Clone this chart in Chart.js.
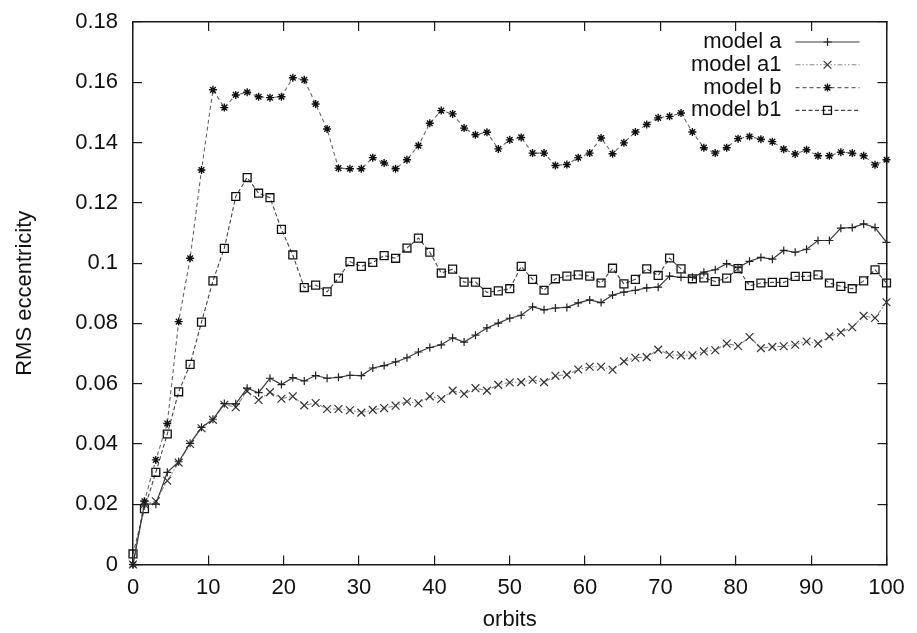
<!DOCTYPE html>
<html>
<head>
<meta charset="utf-8">
<title>RMS eccentricity vs orbits</title>
<script src="https://cdn.jsdelivr.net/npm/chart.js@4.4.1/dist/chart.umd.min.js"></script>
<style>
  html, body { margin: 0; padding: 0; background: #ffffff; }
  canvas { display: block; }
</style>
</head>
<body>
<canvas id="chart" width="917" height="633"></canvas>
<script>
// Sample times (orbits)
const orbits = [0, 1.52, 3.03, 4.55, 6.06, 7.58, 9.09, 10.61, 12.12, 13.64, 15.15, 16.67, 18.18, 19.70,
  21.21, 22.73, 24.24, 25.76, 27.27, 28.79, 30.30, 31.82, 33.33, 34.85, 36.36, 37.88, 39.39, 40.91,
  42.42, 43.94, 45.45, 46.97, 48.48, 50.00, 51.52, 53.03, 54.55, 56.06, 57.58, 59.09, 60.61, 62.12,
  63.64, 65.15, 66.67, 68.18, 69.70, 71.21, 72.73, 74.24, 75.76, 77.27, 78.79, 80.30, 81.82, 83.33,
  84.85, 86.36, 87.88, 89.39, 90.91, 92.42, 93.94, 95.45, 96.97, 98.48, 100];

// RMS eccentricity per model
const modelA = [0, 0.0200, 0.0200, 0.0306, 0.0341, 0.0402, 0.0455, 0.0482, 0.0534, 0.0533, 0.0585,
  0.0570, 0.0618, 0.0597, 0.0620, 0.0609, 0.0627, 0.0618, 0.0621, 0.0628, 0.0627, 0.0652, 0.0660,
  0.0672, 0.0686, 0.0705, 0.0720, 0.0729, 0.0752, 0.0738, 0.0761, 0.0785, 0.0801, 0.0817, 0.0827,
  0.0855, 0.0845, 0.0851, 0.0853, 0.0868, 0.0878, 0.0869, 0.0894, 0.0904, 0.0910, 0.0918, 0.0920,
  0.0957, 0.0953, 0.0953, 0.0970, 0.0978, 0.0998, 0.0985, 0.1006, 0.1019, 0.1013, 0.1042, 0.1036,
  0.1046, 0.1075, 0.1075, 0.1116, 0.1118, 0.1130, 0.1118, 0.1069];

const modelA1 = [0, 0.0200, 0.0210, 0.0278, 0.0338, 0.0400, 0.0452, 0.0480, 0.0530, 0.0522, 0.0575,
  0.0546, 0.0572, 0.0550, 0.0558, 0.0528, 0.0536, 0.0516, 0.0516, 0.0512, 0.0504, 0.0513, 0.0519,
  0.0527, 0.0541, 0.0535, 0.0558, 0.0549, 0.0577, 0.0566, 0.0585, 0.0577, 0.0596, 0.0604, 0.0605,
  0.0613, 0.0605, 0.0626, 0.0630, 0.0647, 0.0656, 0.0656, 0.0646, 0.0674, 0.0686, 0.0688, 0.0713,
  0.0696, 0.0694, 0.0694, 0.0707, 0.0711, 0.0733, 0.0725, 0.0755, 0.0718, 0.0722, 0.0724, 0.0729,
  0.0740, 0.0733, 0.0757, 0.0770, 0.0787, 0.0825, 0.0818, 0.0870];

const modelB = [0, 0.0210, 0.0347, 0.0468, 0.0806, 0.1016, 0.1309, 0.1575, 0.1516, 0.1558, 0.1567,
  0.1552, 0.1549, 0.1552, 0.1615, 0.1608, 0.1528, 0.1445, 0.1315, 0.1313, 0.1313, 0.1350, 0.1332,
  0.1313, 0.1343, 0.1390, 0.1464, 0.1506, 0.1495, 0.1448, 0.1426, 0.1434, 0.1379, 0.1409, 0.1417,
  0.1365, 0.1365, 0.1324, 0.1327, 0.1350, 0.1365, 0.1415, 0.1363, 0.1399, 0.1435, 0.1460, 0.1482,
  0.1487, 0.1498, 0.1435, 0.1383, 0.1365, 0.1383, 0.1413, 0.1420, 0.1411, 0.1403, 0.1378, 0.1362,
  0.1376, 0.1356, 0.1356, 0.1368, 0.1365, 0.1356, 0.1326, 0.1343];

const modelB1 = [0.0035, 0.0185, 0.0306, 0.0433, 0.0573, 0.0664, 0.0804, 0.0941, 0.1049, 0.1221, 0.1284,
  0.1232, 0.1217, 0.1112, 0.1027, 0.0919, 0.0927, 0.0905, 0.0950, 0.1005, 0.0989, 0.1002, 0.1025,
  0.1016, 0.1050, 0.1083, 0.1036, 0.0967, 0.0980, 0.0937, 0.0937, 0.0903, 0.0908, 0.0915, 0.0989,
  0.0946, 0.0910, 0.0948, 0.0957, 0.0961, 0.0957, 0.0934, 0.0983, 0.0931, 0.0946, 0.0981, 0.0959,
  0.1017, 0.0981, 0.0948, 0.0951, 0.0939, 0.0950, 0.0982, 0.0925, 0.0934, 0.0936, 0.0936, 0.0956,
  0.0956, 0.0961, 0.0934, 0.0923, 0.0915, 0.0941, 0.0978, 0.0934];

const seriesNames = ['model a', 'model a1', 'model b', 'model b1'];
const yTickLabels = ['0', '0.02', '0.04', '0.06', '0.08', '0.1', '0.12', '0.14', '0.16', '0.18'];
const xTickLabels = ['0', '10', '20', '30', '40', '50', '60', '70', '80', '90', '100'];

const FONT = '"Liberation Sans", Arial, Helvetica, sans-serif';
const TEXT = '#111111';
const AXIS = '#1a1a1a';

const toPoints = (vals) => vals.map((v, i) => ({ x: orbits[i], y: v }));

function series(label, vals, style) {
  return Object.assign({
    label: label,
    data: toPoints(vals),
    tension: 0,
    fill: false,
    clip: false,
    pointBackgroundColor: 'rgba(0,0,0,0)',
    backgroundColor: 'rgba(0,0,0,0)',
    pointHoverRadius: 0
  }, style);
}

const datasets = [
  series(seriesNames[0], modelA, {
    borderColor: '#3a3a3a', borderWidth: 1.2, borderDash: [],
    pointStyle: 'cross', pointRadius: 4, pointBorderColor: '#222', pointBorderWidth: 1.2
  }),
  series(seriesNames[1], modelA1, {
    borderColor: '#8a8a8a', borderWidth: 1.1, borderDash: [5, 2, 1.5, 2, 1.5, 2],
    pointStyle: 'crossRot', pointRadius: 5.5, pointBorderColor: '#333', pointBorderWidth: 1.2
  }),
  series(seriesNames[2], modelB, {
    borderColor: '#666', borderWidth: 1.1, borderDash: [4, 3],
    pointStyle: 'star', pointRadius: 4, pointBorderColor: '#111', pointBorderWidth: 1.4
  }),
  series(seriesNames[3], modelB1, {
    borderColor: '#444', borderWidth: 1.1, borderDash: [4, 2.5],
    pointStyle: 'rect', pointRadius: 5.6, pointBorderColor: '#111', pointBorderWidth: 1.3
  })
];

// Key in the upper right: right-aligned name, then a line sample with its marker
const keyBlock = {
  id: 'keyBlock',
  afterDatasetsDraw(chart) {
    const ctx = chart.ctx;
    const area = chart.chartArea;
    const textRight = area.right - 105;
    const lineL = area.right - 91;
    const lineR = area.right - 27;
    const rowTop = area.top + 20;
    const rowGap = 22.8;
    ctx.save();
    chart.data.datasets.forEach((ds, i) => {
      const y = rowTop + i * rowGap;
      ctx.font = '22px ' + FONT;
      ctx.fillStyle = TEXT;
      ctx.textAlign = 'right';
      ctx.textBaseline = 'middle';
      ctx.fillText(ds.label, textRight, y);
      ctx.strokeStyle = ds.borderColor;
      ctx.lineWidth = ds.borderWidth;
      ctx.setLineDash(ds.borderDash || []);
      ctx.beginPath();
      ctx.moveTo(lineL, y);
      ctx.lineTo(lineR, y);
      ctx.stroke();
      ctx.setLineDash([]);
      ctx.strokeStyle = ds.pointBorderColor;
      ctx.fillStyle = 'rgba(0,0,0,0)';
      ctx.lineWidth = ds.pointBorderWidth;
      Chart.helpers.drawPoint(ctx, {
        pointStyle: ds.pointStyle, radius: ds.pointRadius, rotation: 0, borderWidth: ds.pointBorderWidth
      }, (lineL + lineR) / 2, y);
    });
    ctx.restore();
  }
};

const grid = { drawOnChartArea: false, drawTicks: true, tickLength: -9, color: AXIS, lineWidth: 1.2 };
const border = { display: true, color: AXIS, width: 1.5 };
const tickFont = { family: FONT, size: 22 };

// Fix the box sizes and drop the label overhang padding so the plot frame sits exactly
function fixBox(w, h) {
  return (s) => {
    if (w !== null) s.width = w;
    if (h !== null) s.height = h;
    s.paddingTop = 0; s.paddingBottom = 0; s.paddingLeft = 0; s.paddingRight = 0;
  };
}

new Chart(document.getElementById('chart'), {
  type: 'line',
  data: { datasets: datasets },
  options: {
    responsive: false,
    animation: false,
    events: [],
    layout: { padding: { left: 0, right: 30.5, top: 22, bottom: 0 } },
    plugins: { legend: { display: false }, tooltip: { enabled: false } },
    scales: {
      x: {
        type: 'linear', position: 'bottom', min: 0, max: 100,
        ticks: {
          stepSize: 10, padding: 19, color: TEXT, font: tickFont, maxRotation: 0, autoSkip: false,
          callback: (v, i) => xTickLabels[i]
        },
        grid: grid, border: border,
        title: { display: true, text: 'orbits', color: TEXT, font: tickFont, padding: { top: 0, bottom: 0 } },
        afterFit: fixBox(null, 68.5)
      },
      xTop: {
        type: 'linear', position: 'top', min: 0, max: 100,
        ticks: { stepSize: 10, display: false },
        grid: grid, border: border,
        afterFit: fixBox(null, 0)
      },
      y: {
        type: 'linear', position: 'left', min: 0, max: 0.18,
        ticks: {
          stepSize: 0.02, padding: 24, color: TEXT, font: tickFont, autoSkip: false,
          callback: (v, i) => yTickLabels[i]
        },
        grid: grid, border: border,
        title: { display: true, text: 'RMS eccentricity', color: TEXT, font: tickFont, padding: { top: 12, bottom: 0 } },
        afterFit: fixBox(133, null)
      },
      yRight: {
        type: 'linear', position: 'right', min: 0, max: 0.18,
        ticks: { stepSize: 0.02, display: false },
        grid: grid, border: border,
        afterFit: fixBox(0, null)
      }
    }
  },
  plugins: [keyBlock]
});
</script>
</body>
</html>
